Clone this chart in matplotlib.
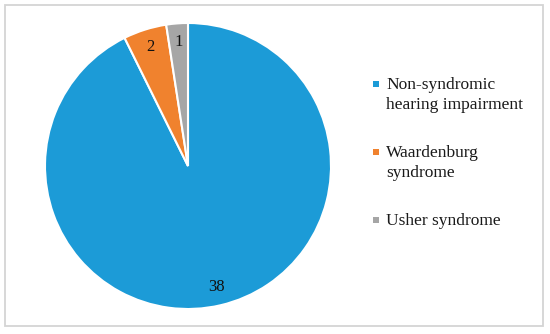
import matplotlib
matplotlib.use("Agg")
import matplotlib.pyplot as plt
from matplotlib.patches import Rectangle

categories = ["Non-syndromic\nhearing impairment", "Waardenburg\nsyndrome", "Usher syndrome"]
values = [38, 2, 1]
colors = ["#1C9BD7", "#F0822E", "#A6A6A6"]

plt.rcParams['font.family'] = ['Liberation Serif', 'DejaVu Serif']

W, H = 550, 334
fig = plt.figure(figsize=(W / 100, H / 100), dpi=100)

def fx(px):
    return px / W

def fy(py):
    return 1 - py / H

# outer frame
fig.patches.append(Rectangle((fx(5), fy(326)), fx(538), 321 / H, transform=fig.transFigure,
                             fill=False, edgecolor="#D4D4D4", linewidth=1.3))

cx, cy, r = 188, 166, 143
ax = fig.add_axes([fx(cx - r), fy(cy + r), 2 * r / W, 2 * r / H])
total = sum(values)
wedges, texts, autotexts = ax.pie(values, colors=colors, startangle=90, counterclock=False,
                                  autopct=lambda p: f"{round(p * total / 100):d}",
                                  pctdistance=0.87, radius=1.0,
                                  wedgeprops=dict(edgecolor="white", linewidth=1.5),
                                  textprops=dict(fontsize=12, color="#111111"))
ax.set_xlim(-1, 1)
ax.set_ylim(-1, 1)
ax.set_aspect('equal')
ax.axis('off')

# legend (square aligned with first text line, as in the reference)
baselines = [89, 157, 225]
line_gap = 20
for lab, col, b in zip(categories, colors, baselines):
    fig.patches.append(Rectangle((fx(373), fy(b - 2)), 6 / W, 6 / H, transform=fig.transFigure,
                                 facecolor=col, edgecolor="none"))
    for i, line in enumerate(lab.split("\n")):
        fig.text(fx(386), fy(b + i * line_gap), line, fontsize=12.5, color="#1a1a1a",
                 va="baseline", ha="left")

fig.savefig("out.png", dpi=100)
